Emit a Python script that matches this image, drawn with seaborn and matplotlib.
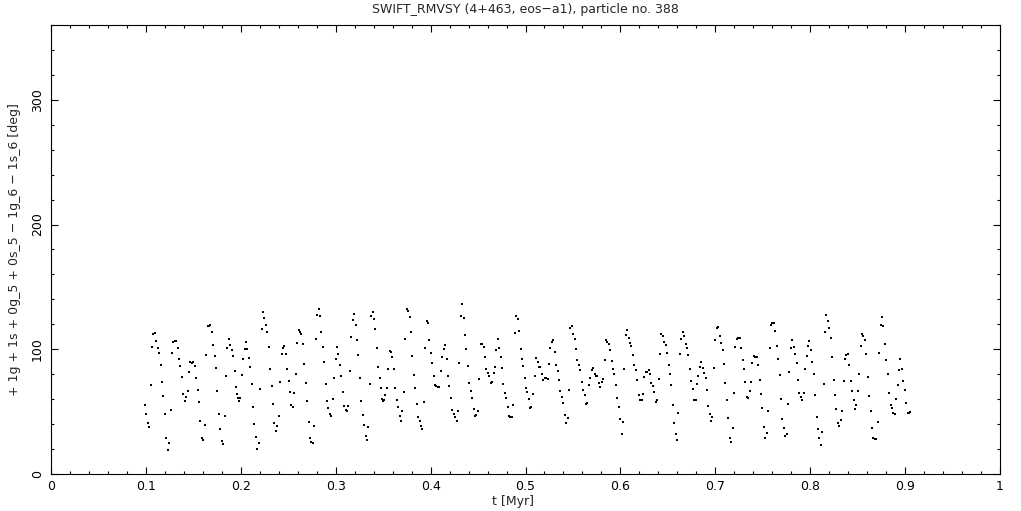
import matplotlib
matplotlib.use("Agg")
import matplotlib.pyplot as plt
import pandas as pd
import seaborn as sns
from matplotlib.ticker import MultipleLocator, FuncFormatter

# Zeit [Myr]
t_myr = [
    0.0994, 0.1005, 0.1026, 0.1036, 0.1057, 0.1068, 0.1078, 0.1099, 0.1110, 0.1131,
    0.1141, 0.1162, 0.1173, 0.1183, 0.1205, 0.1215, 0.1236, 0.1247, 0.1268, 0.1278,
    0.1289, 0.1310, 0.1321, 0.1342, 0.1352, 0.1363, 0.1384, 0.1394, 0.1416, 0.1426,
    0.1447, 0.1458, 0.1468, 0.1489, 0.1500, 0.1521, 0.1531, 0.1552, 0.1563, 0.1574,
    0.1595, 0.1605, 0.1626, 0.1637, 0.1658, 0.1668, 0.1679, 0.1700, 0.1711, 0.1732,
    0.1742, 0.1753, 0.1774, 0.1784, 0.1805, 0.1816, 0.1837, 0.1848, 0.1858, 0.1879,
    0.1890, 0.1911, 0.1921, 0.1942, 0.1953, 0.1963, 0.1974, 0.1985, 0.1995, 0.2016,
    0.2027, 0.2048, 0.2058, 0.2069, 0.2090, 0.2101, 0.2122, 0.2132, 0.2143, 0.2164,
    0.2175, 0.2196, 0.2206, 0.2227, 0.2238, 0.2248, 0.2269, 0.2280, 0.2301, 0.2311,
    0.2333, 0.2343, 0.2354, 0.2375, 0.2385, 0.2406, 0.2417, 0.2438, 0.2448, 0.2459,
    0.2480, 0.2491, 0.2512, 0.2522, 0.2533, 0.2554, 0.2564, 0.2586, 0.2596, 0.2617,
    0.2628, 0.2638, 0.2659, 0.2670, 0.2691, 0.2701, 0.2722, 0.2733, 0.2744, 0.2765,
    0.2775, 0.2796, 0.2807, 0.2828, 0.2839, 0.2849, 0.2870, 0.2881, 0.2902, 0.2912,
    0.2923, 0.2944, 0.2954, 0.2976, 0.2986, 0.3007, 0.3018, 0.3028, 0.3049, 0.3060,
    0.3081, 0.3092, 0.3113, 0.3123, 0.3134,
    0.3154, 0.3165, 0.3186, 0.3196, 0.3218, 0.3228, 0.3239, 0.3260, 0.3270, 0.3291,
    0.3302, 0.3323, 0.3333, 0.3344, 0.3365, 0.3376, 0.3397, 0.3407, 0.3418, 0.3439,
    0.3449, 0.3470, 0.3481, 0.3492, 0.3502, 0.3513, 0.3523, 0.3544, 0.3555, 0.3576,
    0.3586, 0.3597, 0.3618, 0.3629, 0.3650, 0.3660, 0.3681, 0.3692, 0.3702, 0.3723,
    0.3734, 0.3755, 0.3765, 0.3787, 0.3797, 0.3808, 0.3829, 0.3839, 0.3860, 0.3871,
    0.3892, 0.3902, 0.3913, 0.3934, 0.3945, 0.3966, 0.3976, 0.3987, 0.4008, 0.4018,
    0.4039, 0.4050, 0.4061, 0.4082, 0.4092, 0.4113, 0.4124, 0.4145, 0.4155, 0.4176,
    0.4187, 0.4197, 0.4218, 0.4229, 0.4250, 0.4261, 0.4282, 0.4292, 0.4303, 0.4324,
    0.4334, 0.4355, 0.4366, 0.4377, 0.4398, 0.4408, 0.4429, 0.4440, 0.4461, 0.4472,
    0.4482, 0.4503, 0.4514, 0.4535, 0.4545, 0.4566, 0.4577, 0.4587, 0.4608, 0.4619,
    0.4640, 0.4651, 0.4672, 0.4682, 0.4693, 0.4714, 0.4724, 0.4745, 0.4756, 0.4766,
    0.4788, 0.4798, 0.4819, 0.4830, 0.4840, 0.4861, 0.4872, 0.4893, 0.4904, 0.4925,
    0.4935, 0.4956, 0.4967, 0.4977, 0.4998, 0.5009, 0.5019, 0.5040, 0.5051, 0.5061,
    0.5083, 0.5104, 0.5114, 0.5135, 0.5146, 0.5156, 0.5177, 0.5188, 0.5209, 0.5220,
    0.5241, 0.5251,
    0.5262, 0.5283, 0.5293, 0.5315, 0.5325, 0.5346, 0.5357, 0.5367, 0.5388, 0.5399,
    0.5420, 0.5430, 0.5451, 0.5462, 0.5473, 0.5494, 0.5504, 0.5525, 0.5536, 0.5546,
    0.5567, 0.5578, 0.5599, 0.5610, 0.5631, 0.5641, 0.5652, 0.5673, 0.5683, 0.5704,
    0.5715, 0.5736, 0.5747, 0.5757, 0.5778, 0.5789, 0.5810, 0.5820, 0.5841, 0.5852,
    0.5862, 0.5884, 0.5894, 0.5915, 0.5926, 0.5936, 0.5957, 0.5968, 0.5989, 0.5999,
    0.6020, 0.6031, 0.6041, 0.6063, 0.6073, 0.6094, 0.6105, 0.6115, 0.6136, 0.6147,
    0.6168, 0.6179, 0.6200, 0.6210, 0.6231, 0.6242, 0.6252, 0.6273, 0.6284, 0.6305,
    0.6316, 0.6326, 0.6347, 0.6358, 0.6379, 0.6389, 0.6410, 0.6421, 0.6432, 0.6453,
    0.6463, 0.6484, 0.6495, 0.6516, 0.6526, 0.6537, 0.6558, 0.6569, 0.6590, 0.6600,
    0.6611, 0.6632, 0.6642, 0.6663, 0.6674, 0.6695, 0.6706, 0.6716, 0.6737, 0.6748,
    0.6769, 0.6779, 0.6801, 0.6811, 0.6822, 0.6843, 0.6853, 0.6874, 0.6885, 0.6906,
    0.6916, 0.6927, 0.6948, 0.6959, 0.6969, 0.6990, 0.7001, 0.7022, 0.7032, 0.7053,
    0.7064, 0.7085, 0.7096, 0.7106, 0.7127, 0.7138, 0.7159, 0.7169, 0.7190, 0.7201,
    0.7211, 0.7232, 0.7243, 0.7264, 0.7275, 0.7296, 0.7306, 0.7317, 0.7338, 0.7348,
    0.7370, 0.7380, 0.7391, 0.7412, 0.7422, 0.7443, 0.7454,
    0.7475, 0.7485, 0.7496, 0.7517, 0.7527, 0.7549, 0.7559, 0.7580, 0.7591, 0.7601,
    0.7622, 0.7633, 0.7654, 0.7664, 0.7685, 0.7696, 0.7706, 0.7727, 0.7738, 0.7759,
    0.7770, 0.7780, 0.7801, 0.7812, 0.7833, 0.7843, 0.7865, 0.7875, 0.7886, 0.7907,
    0.7917, 0.7938, 0.7949, 0.7970, 0.7980, 0.7991, 0.8012, 0.8023, 0.8044, 0.8054,
    0.8075, 0.8086, 0.8096, 0.8117, 0.8128, 0.8149, 0.8160, 0.8170, 0.8191, 0.8202,
    0.8223, 0.8233, 0.8254, 0.8265, 0.8275, 0.8296, 0.8307, 0.8328, 0.8339, 0.8360,
    0.8370, 0.8381, 0.8402, 0.8412, 0.8433, 0.8444, 0.8465, 0.8476, 0.8486, 0.8507,
    0.8518, 0.8539, 0.8549, 0.8560, 0.8581, 0.8591, 0.8612, 0.8623, 0.8644, 0.8655,
    0.8665, 0.8686, 0.8697, 0.8718, 0.8728, 0.8749, 0.8760, 0.8770, 0.8792, 0.8802,
    0.8823, 0.8834, 0.8855, 0.8865, 0.8876, 0.8897, 0.8907, 0.8928, 0.8939, 0.8949,
    0.8971, 0.8981, 0.9002, 0.9013, 0.9034, 0.9044, 0.9055,
]

# Resonanzwinkel [deg]
angle_deg = [
    55.1, 47.8, 40.6, 37.7, 71.1, 101.6, 112.3, 113.1, 106.4, 100.8,
    96.8, 87.1, 73.5, 62.3, 47.8, 28.6, 19.0, 24.6, 51.0, 96.8,
    105.6, 106.4, 106.4, 100.8, 91.9, 86.3, 77.5, 63.9, 58.3, 61.5,
    66.3, 81.5, 89.5, 88.7, 89.5, 86.3, 76.7, 67.1, 57.5, 42.2,
    28.6, 27.0, 39.0, 95.1, 118.4, 118.4, 119.2, 113.6, 103.2, 94.3,
    84.7, 66.3, 47.8, 35.8, 26.2, 23.8, 46.2, 78.3, 100.8, 108.0,
    103.2, 99.2, 94.3, 82.3, 69.5, 63.9, 60.7, 58.3, 60.7, 79.1,
    91.9, 100.0, 105.6, 100.0, 92.7, 85.5, 71.9, 53.5, 39.8, 29.4,
    19.8, 24.6, 67.9, 116.0, 129.6, 124.8, 119.2, 113.6, 101.6, 83.9,
    70.3, 55.9, 40.6, 34.2, 38.2, 46.2, 73.5, 95.9, 100.8, 102.4,
    95.9, 83.9, 74.3, 65.5, 55.1, 53.5, 64.7, 79.9, 104.8, 115.2,
    113.6, 112.0, 104.0, 87.9, 72.7, 58.3, 41.4, 28.6, 25.4, 24.6,
    38.2, 108.0, 127.2, 132.0, 126.4, 113.6, 101.6, 89.5, 71.9, 58.3,
    52.7, 47.8, 46.2, 59.9, 76.7, 91.9, 101.6, 95.9, 87.1, 78.3,
    65.5, 54.3, 51.0, 50.2, 54.3,
    82.3, 109.6, 123.2, 128.0, 119.2, 107.2, 95.1, 76.7, 58.3, 47.0,
    39.0, 30.2, 27.0, 37.4, 71.9, 126.4, 129.6, 124.0, 116.0, 100.8,
    85.5, 76.7, 68.7, 59.9, 58.3, 59.1, 63.1, 68.7, 83.9, 98.4,
    97.6, 93.5, 83.9, 68.7, 59.1, 53.5, 46.2, 42.2, 50.2, 65.5,
    108.0, 132.0, 130.4, 125.6, 113.6, 94.3, 79.1, 68.7, 55.9, 45.4,
    42.2, 38.2, 35.8, 57.5, 100.8, 122.4, 120.8, 107.2, 96.8, 88.7,
    78.3, 71.1, 70.3, 69.5, 69.5, 82.3, 93.5, 100.0, 103.2, 91.9,
    78.3, 70.3, 60.7, 51.0, 47.8, 45.4, 42.2, 50.2, 88.7, 126.4,
    136.0, 124.8, 111.2, 100.0, 86.3, 72.7, 66.3, 60.7, 51.8, 46.2,
    47.0, 50.2, 75.9, 104.0, 104.0, 101.6, 93.5, 83.9, 80.7, 78.3,
    72.7, 73.5, 80.7, 85.5, 99.2, 108.0, 100.8, 93.5, 84.7, 71.9,
    64.7, 60.7, 53.5, 46.2, 45.4, 45.4, 55.1, 112.8, 126.4, 124.0,
    114.4, 100.0, 91.9, 86.3, 76.7, 68.7, 65.5, 59.9, 52.7, 53.5,
    63.9, 78.3, 92.7, 89.5, 85.5, 85.5, 79.9, 75.1, 76.7, 76.7,
    75.9, 87.9,
    100.8, 105.6, 107.2, 97.6, 87.1, 82.3, 75.1, 66.3, 61.5, 56.7,
    47.0, 40.6, 44.6, 67.1, 116.8, 118.4, 112.0, 108.0, 100.0, 91.1,
    87.1, 83.1, 73.5, 67.1, 63.1, 55.9, 56.7, 71.1, 76.7, 83.1,
    84.7, 79.9, 78.3, 78.3, 72.7, 69.5, 73.5, 75.9, 91.1, 107.2,
    105.6, 104.0, 99.2, 90.3, 83.9, 79.9, 71.1, 60.7, 53.5, 43.8,
    31.8, 41.4, 83.9, 111.2, 115.2, 108.8, 104.8, 102.4, 95.1, 87.1,
    83.1, 75.1, 63.1, 59.1, 59.1, 63.9, 77.5, 81.5, 81.5, 83.1,
    79.9, 72.7, 70.3, 65.5, 57.5, 59.1, 75.9, 95.9, 112.0, 110.4,
    105.6, 103.2, 96.8, 87.1, 79.9, 71.1, 55.1, 40.6, 31.8, 27.0,
    48.6, 95.9, 108.0, 113.6, 110.4, 104.0, 100.8, 95.1, 83.9, 74.3,
    67.9, 59.1, 59.1, 71.9, 78.3, 85.5, 89.5, 84.7, 80.7, 76.7,
    67.1, 54.3, 47.8, 42.2, 45.4, 84.7, 107.2, 116.8, 117.6, 110.4,
    104.8, 99.2, 87.9, 72.7, 59.1, 44.6, 28.6, 25.4, 36.6, 64.7,
    101.6, 108.0, 108.8, 108.8, 100.8, 91.1, 83.9, 73.5, 61.5, 60.7,
    66.3, 73.5, 88.7, 94.3, 93.5, 93.5, 87.1,
    75.1, 63.9, 52.7, 37.4, 28.6, 32.6, 50.2, 100.8, 119.2, 120.8,
    120.8, 114.4, 102.4, 91.9, 79.1, 59.9, 43.8, 36.6, 30.2, 31.8,
    55.9, 81.5, 100.8, 107.2, 101.6, 95.9, 88.7, 75.1, 64.7, 61.5,
    59.1, 64.7, 83.9, 94.3, 102.4, 106.4, 99.2, 89.5, 79.9, 63.1,
    45.4, 35.8, 28.6, 23.0, 33.4, 71.9, 113.6, 127.2, 122.4, 116.8,
    108.8, 93.5, 75.1, 63.1, 51.8, 40.6, 38.2, 43.0, 50.2, 74.3,
    91.9, 95.1, 95.9, 87.1, 74.3, 66.3, 59.1, 51.8, 55.1, 66.3,
    79.9, 102.4, 112.0, 110.4, 107.2, 95.9, 77.5, 62.3, 50.2, 36.6,
    28.6, 27.8, 27.8, 41.4, 96.8, 119.2, 125.6, 118.4, 104.0, 91.1,
    79.9, 64.7, 55.1, 52.7, 48.6, 47.8, 59.9, 71.1, 83.1, 91.9,
    83.9, 74.3, 67.1, 56.7, 48.6, 48.6, 49.4,
]

title = "SWIFT_RMVSY (4+463, eos\u2212a1), particle no. 388"
x_label = "t [Myr]"
y_label = "+ 1g + 1s + 0g_5 + 0s_5 \u2212 1g_6 \u2212 1s_6 [deg]"

df = pd.DataFrame({"t": t_myr, "phi": angle_deg})

sns.set_style("white")
plt.rcParams["font.family"] = ["DejaVu Sans"]

W, H = 1021, 511
fig = plt.figure(figsize=(W / 100, H / 100), dpi=100)
ax = fig.add_axes([51 / W, 37 / H, 949 / W, 449 / H])

# Punkte wie im Original: winzige schwarze Pixel
sns.scatterplot(data=df, x="t", y="phi", ax=ax, color="black", marker="s",
                s=0.8, linewidth=0, legend=False)

ax.set_xlim(0, 1)
ax.set_ylim(0, 360)
ax.xaxis.set_major_locator(MultipleLocator(0.1))
ax.xaxis.set_minor_locator(MultipleLocator(0.02))
ax.yaxis.set_major_locator(MultipleLocator(100))
ax.yaxis.set_minor_locator(MultipleLocator(20))
ax.xaxis.set_major_formatter(FuncFormatter(lambda v, _: f"{v:g}"))
ax.yaxis.set_major_formatter(FuncFormatter(lambda v, _: f"{v:g}"))

for sp in ax.spines.values():
    sp.set_color("black")
    sp.set_linewidth(0.8)

ax.tick_params(which="both", direction="in", top=True, right=True,
               bottom=True, left=True, color="black", width=0.8,
               labelsize=9, labelcolor="black")
ax.tick_params(which="major", length=5)
ax.tick_params(which="minor", length=2.5)
ax.tick_params(axis="x", which="major", pad=4)
ax.tick_params(axis="y", which="major", pad=5, labelrotation=90)
for lab in ax.get_yticklabels():
    lab.set_va("center")

ax.set_xlabel("")
ax.set_ylabel("")
fig.text(513 / W, 1 - 501 / H, x_label, ha="center", va="center", fontsize=9)
fig.text(15 / W, 1 - 250 / H, y_label, ha="center", va="center",
         rotation=90, fontsize=9)
fig.text(525 / W, 1 - 9 / H, title, ha="center", va="center", fontsize=9)

fig.savefig("out.png", dpi=100, facecolor="white")
